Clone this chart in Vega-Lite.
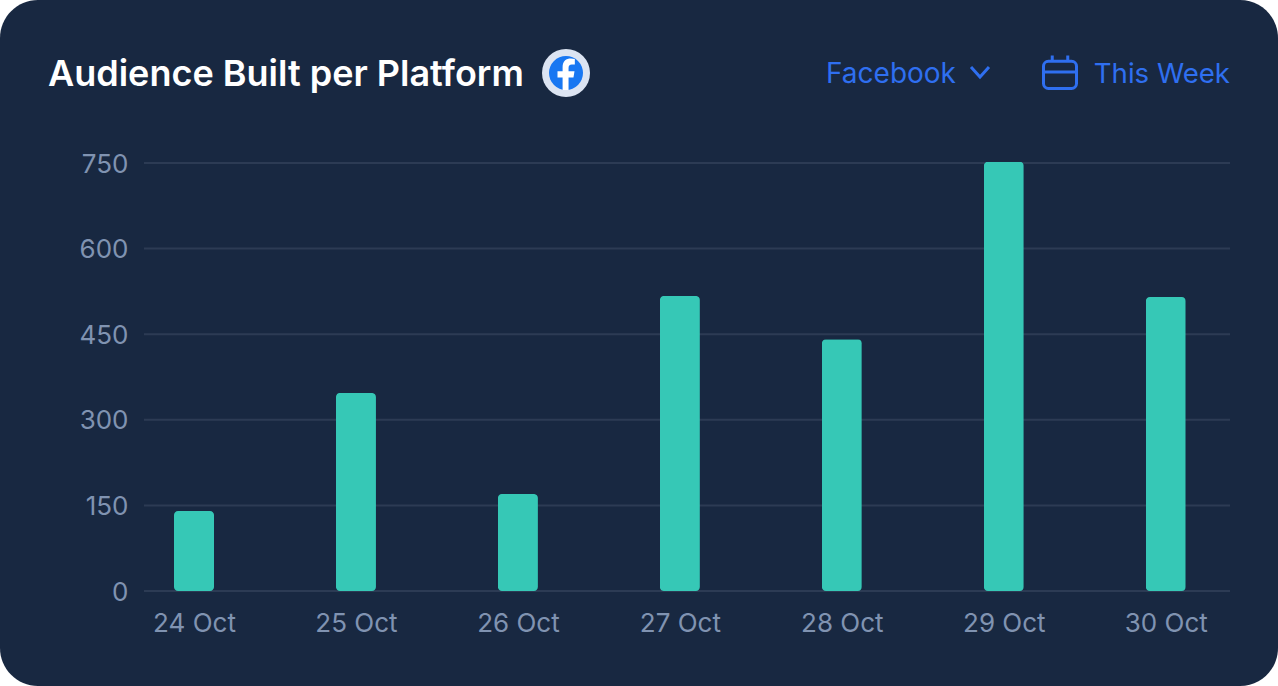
{
  "$schema": "https://vega.github.io/schema/vega-lite/v6.json",
  "autosize": {"type": "none"},
  "padding": {"left": 144, "top": 163, "right": 48, "bottom": 95},
  "width": 1086,
  "height": 428,
  "background": "#ffffff",
  "config": {"view": {"stroke": null}, "font": "Inter"},
  "layer": [
    {
      "data": {"values": [{}]},
      "mark": {"type": "rect", "color": "#182841", "cornerRadius": 38, "clip": false},
      "encoding": {
        "x": {"value": -144},
        "x2": {"value": 1134},
        "y": {"value": -163},
        "y2": {"value": 523}
      }
    },
    {
      "data": {"values": [{"tick": 0}, {"tick": 150}, {"tick": 300}, {"tick": 450}, {"tick": 600}, {"tick": 750}]},
      "mark": {"type": "rule", "color": "#2c3b54", "strokeWidth": 2},
      "encoding": {
        "y": {
          "field": "tick",
          "type": "quantitative",
          "scale": {"domain": [0, 750], "nice": false},
          "axis": {
            "title": null,
            "values": [0, 150, 300, 450, 600, 750],
            "grid": false,
            "domain": false,
            "ticks": false,
            "labelFont": "Inter",
            "labelFontSize": 26,
            "labelColor": "#8093b1",
            "labelPadding": 16,
            "labelOffset": 1,
            "zindex": 1
          }
        }
      }
    },
    {
      "data": {
        "values": [
          {"day": "24 Oct", "audience": 140},
          {"day": "25 Oct", "audience": 347},
          {"day": "26 Oct", "audience": 170},
          {"day": "27 Oct", "audience": 517},
          {"day": "28 Oct", "audience": 441},
          {"day": "29 Oct", "audience": 752},
          {"day": "30 Oct", "audience": 515}
        ]
      },
      "mark": {"type": "bar", "color": "#36c8b6", "width": 40, "cornerRadius": 4, "clip": false},
      "encoding": {
        "x": {
          "field": "day",
          "type": "nominal",
          "sort": null,
          "scale": {"type": "point", "padding": 0, "range": [50, 1021.8]},
          "axis": {
            "title": null,
            "labelAngle": 0,
            "domain": false,
            "ticks": false,
            "labelFont": "Inter",
            "labelFontSize": 26,
            "labelColor": "#8093b1",
            "labelPadding": 19,
            "zindex": 1
          }
        },
        "y": {"field": "audience", "type": "quantitative"}
      }
    },
    {
      "data": {"values": [{"label": "Audience Built per Platform"}]},
      "mark": {"type": "text", "align": "left", "baseline": "alphabetic", "font": "Inter", "fontSize": 36, "fontWeight": 600, "color": "#ffffff"},
      "encoding": {"text": {"field": "label"}, "x": {"value": -96}, "y": {"value": -77}}
    },
    {
      "data": {"values": [{}]},
      "mark": {"type": "point", "shape": "circle", "filled": true, "color": "#dce4f2", "opacity": 1, "size": 2304},
      "encoding": {"x": {"value": 422}, "y": {"value": -90}}
    },
    {
      "data": {"values": [{}]},
      "mark": {"type": "point", "shape": "circle", "filled": true, "color": "#1877f2", "opacity": 1, "size": 1156},
      "encoding": {"x": {"value": 422}, "y": {"value": -90}}
    },
    {
      "data": {"values": [{}]},
      "mark": {
        "type": "point",
        "shape": "M-0.2,1 V0.27 H-0.5 V-0.1 H-0.2 V-0.35 C-0.2,-0.7 0,-0.85 0.3,-0.85 L0.52,-0.83 V-0.5 H0.35 C0.2,-0.5 0.15,-0.42 0.15,-0.3 V-0.1 H0.5 L0.44,0.27 H0.15 V1 Z",
        "filled": true,
        "color": "#ffffff",
        "opacity": 1,
        "size": 1156
      },
      "encoding": {"x": {"value": 422}, "y": {"value": -90}}
    },
    {
      "data": {"values": [{"label": "Facebook"}]},
      "mark": {"type": "text", "align": "left", "baseline": "alphabetic", "font": "Inter", "fontSize": 28, "color": "#2f6ff0"},
      "encoding": {"text": {"field": "label"}, "x": {"value": 682}, "y": {"value": -80}}
    },
    {
      "data": {"values": [{}]},
      "mark": {
        "type": "point",
        "shape": "M-1,-0.55 L0,0.55 L1,-0.55",
        "filled": false,
        "color": "#2f6ff0",
        "opacity": 1,
        "strokeWidth": 3,
        "size": 324
      },
      "encoding": {"x": {"value": 836}, "y": {"value": -91}}
    },
    {
      "data": {"values": [{}]},
      "mark": {
        "type": "point",
        "shape": "M-0.7,-0.65 H0.7 A0.3,0.3 0 0 1 1,-0.35 V0.7 A0.3,0.3 0 0 1 0.7,1 H-0.7 A0.3,0.3 0 0 1 -1,0.7 V-0.35 A0.3,0.3 0 0 1 -0.7,-0.65 Z M-1,0 H1 M-0.47,-1 V-0.65 M0.47,-1 V-0.65",
        "filled": false,
        "color": "#2f6ff0",
        "opacity": 1,
        "strokeWidth": 3,
        "size": 1089
      },
      "encoding": {"x": {"value": 916}, "y": {"value": -91}}
    },
    {
      "data": {"values": [{"label": "This Week"}]},
      "mark": {"type": "text", "align": "right", "baseline": "alphabetic", "font": "Inter", "fontSize": 27.6, "color": "#2f6ff0"},
      "encoding": {"text": {"field": "label"}, "x": {"value": 1086}, "y": {"value": -80}}
    }
  ]
}
